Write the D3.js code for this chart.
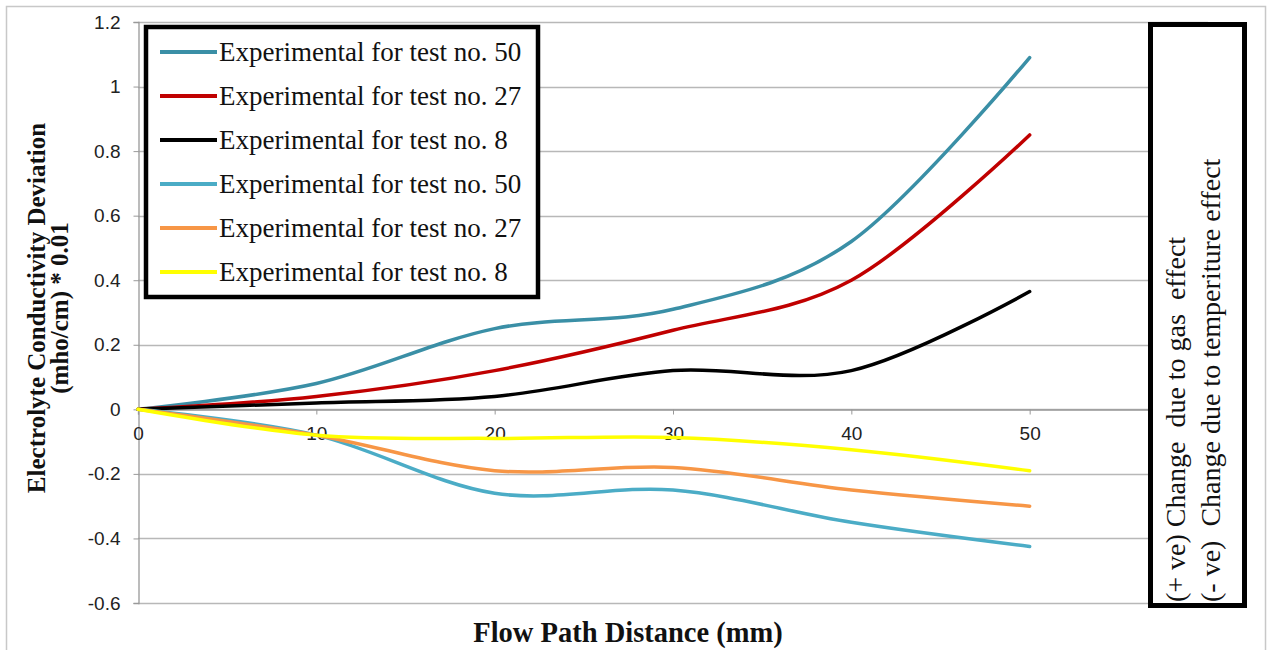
<!DOCTYPE html>
<html><head><meta charset="utf-8">
<script src="https://cdn.jsdelivr.net/npm/d3@7/dist/d3.min.js"></script>
<style>body{margin:0;background:#fff}svg{display:block}</style>
</head><body>
<script>
const distances = [0, 10, 20, 30, 40, 50];
const seriesNames = [
  "Experimental for test no. 50",
  "Experimental for test no. 27",
  "Experimental for test no. 8",
  "Experimental for test no. 50",
  "Experimental for test no. 27",
  "Experimental for test no. 8"
];
const seriesColors = ["#3A8FA6", "#C00000", "#000000", "#4BACC6", "#F79646", "#FFFF00"];
const gas50 = [0, 0.08, 0.25, 0.31, 0.52, 1.09];
const gas27 = [0, 0.04, 0.12, 0.245, 0.40, 0.85];
const gas8 = [0, 0.02, 0.04, 0.12, 0.12, 0.365];
const temp50 = [0, -0.08, -0.26, -0.25, -0.35, -0.425];
const temp27 = [0, -0.08, -0.19, -0.18, -0.25, -0.30];
const temp8 = [0, -0.08, -0.09, -0.087, -0.125, -0.19];
const seriesValues = [gas50, gas27, gas8, temp50, temp27, temp8];
const yTicks = [-0.6, -0.4, -0.2, 0, 0.2, 0.4, 0.6, 0.8, 1, 1.2];
const xTicks = [0, 10, 20, 30, 40, 50, 60];
const yTitle = ["Electrolyte Conductivity Deviation", "(mho/cm) * 0.01"];
const xTitle = "Flow Path Distance (mm)";
const noteLines = ["(+ ve) Change  due to gas  effect", "(- ve)  Change due to temperiture effect"];

const W = 1272, H = 650;
const svg = d3.select("body").append("svg").attr("width", W).attr("height", H);

// outer chart border
svg.append("rect").attr("x", 6.5).attr("y", 6.5).attr("width", 1259).attr("height", 660)
  .attr("fill", "#fff").attr("stroke", "#c8c8c8").attr("stroke-width", 1.5);

const x = d3.scaleLinear().domain([0, 60]).range([138, 1208]);
const y = d3.scaleLinear().domain([-0.6, 1.2]).range([603, 22]);

// gridlines
svg.append("g").selectAll("line").data(yTicks).join("line")
  .attr("x1", 138).attr("x2", 1208)
  .attr("y1", d => Math.round(y(d)) + 0.5).attr("y2", d => Math.round(y(d)) + 0.5)
  .attr("stroke", "#b8b8b8").attr("stroke-width", 1.3);

// y axis
const yAxis = d3.axisLeft(y).tickValues(yTicks).tickSize(5).tickPadding(13)
  .tickFormat(d => String(Math.round(d * 10) / 10));
const gy = svg.append("g").attr("transform", "translate(138.5,0)").call(yAxis);
gy.select(".domain").attr("stroke", "#999").attr("stroke-width", 1.3);
gy.selectAll(".tick line").attr("stroke", "#999");
gy.selectAll(".tick text").attr("font-family", "Liberation Sans, Arial, sans-serif")
  .attr("font-size", 19).attr("fill", "#222");

// x axis at zero
const xAxis = d3.axisBottom(x).tickValues(xTicks).tickSize(5).tickPadding(12).tickFormat(d => String(d));
const gx = svg.append("g").attr("transform", `translate(0,${Math.round(y(0)) + 0.5})`).call(xAxis);
gx.select(".domain").attr("stroke", "#999").attr("stroke-width", 1.3);
gx.selectAll(".tick line").attr("stroke", "#999");
gx.selectAll(".tick text").attr("font-family", "Liberation Sans, Arial, sans-serif")
  .attr("font-size", 19).attr("fill", "#222");

// lines
const line = d3.line().x(d => x(d[0])).y(d => y(d[1])).curve(d3.curveCardinal.tension(0));
svg.append("g").selectAll("path").data(seriesValues).join("path")
  .attr("d", vals => line(distances.map((d, i) => [d, vals[i]])))
  .attr("fill", "none")
  .attr("stroke", (d, i) => seriesColors[i])
  .attr("stroke-width", 3.5)
  .attr("stroke-linecap", "round");

// legend
const lg = svg.append("g");
lg.append("rect").attr("x", 146).attr("y", 27).attr("width", 392).attr("height", 270)
  .attr("fill", "#fff").attr("stroke", "#000").attr("stroke-width", 4.5);
const rows = lg.selectAll("g.row").data(seriesNames).join("g").attr("class", "row")
  .attr("transform", (d, i) => `translate(0,${52 + i * 44})`);
rows.append("line").attr("x1", 160).attr("x2", 217).attr("y1", 0).attr("y2", 0)
  .attr("stroke", (d, i) => seriesColors[i]).attr("stroke-width", 4);
rows.append("text").attr("x", 219).attr("y", 9).text(d => d)
  .attr("font-family", "Liberation Serif, Times New Roman, serif").attr("font-size", 27).attr("fill", "#111");

// right note box
svg.append("rect").attr("x", 1150.5).attr("y", 24.5).attr("width", 94).attr("height", 581)
  .attr("fill", "#fff").attr("stroke", "#000").attr("stroke-width", 5);
svg.append("g").selectAll("text").data(noteLines).join("text")
  .attr("transform", (d, i) => `translate(${1185 + i * 35},602) rotate(-90)`)
  .attr("font-family", "Liberation Serif, Times New Roman, serif").attr("font-size", 28)
  .attr("fill", "#111").style("white-space", "pre").text(d => d);

// axis titles
svg.append("g").selectAll("text").data(yTitle).join("text")
  .attr("transform", (d, i) => `translate(${45 + i * 23},308) rotate(-90)`)
  .attr("text-anchor", "middle")
  .attr("font-family", "Liberation Serif, Times New Roman, serif").attr("font-weight", "bold")
  .attr("font-size", 25).attr("fill", "#111").text(d => d);

svg.append("text").attr("x", 628).attr("y", 642).attr("text-anchor", "middle")
  .attr("font-family", "Liberation Serif, Times New Roman, serif").attr("font-weight", "bold")
  .attr("font-size", 28.5).attr("fill", "#111").text(xTitle);
</script>
</body></html>
